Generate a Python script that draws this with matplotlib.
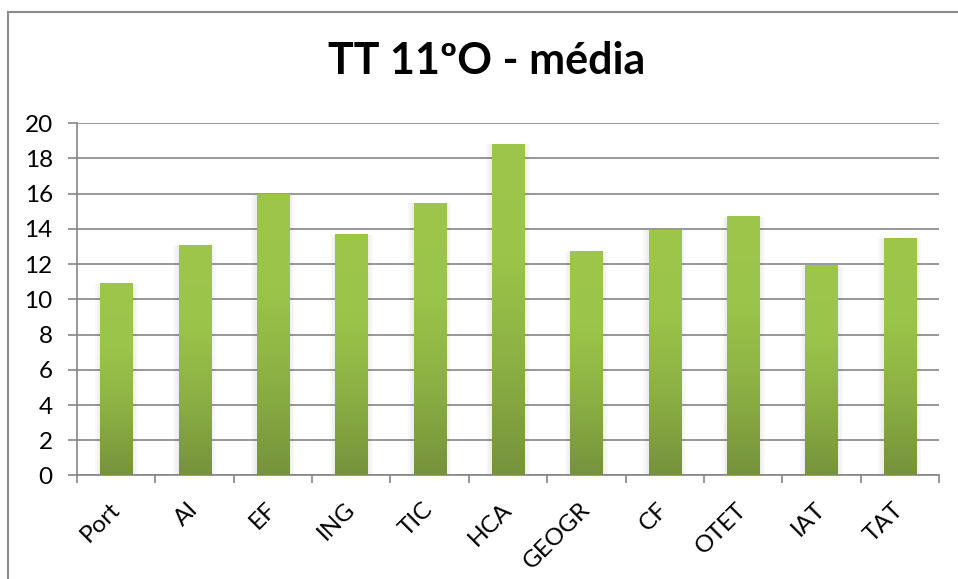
import numpy as np
import matplotlib
matplotlib.use("Agg")
import matplotlib.pyplot as plt
from matplotlib.colors import LinearSegmentedColormap
from matplotlib.lines import Line2D
from matplotlib.patches import Rectangle

# ---------------------------------------------------------------------------
# Data
# ---------------------------------------------------------------------------
subjects = ["Port", "AI", "EF", "ING", "TIC", "HCA", "GEOGR", "CF", "OTET", "IAT", "TAT"]
averages = [10.85, 13.0, 15.9, 13.63, 15.44, 18.78, 12.66, 13.9, 14.65, 11.87, 13.43]
y_ticks = [0, 2, 4, 6, 8, 10, 12, 14, 16, 18, 20]
title = "TT 11ºO - média"

plt.rcParams["font.family"] = ["Lato", "DejaVu Sans"]

GRID = "#868686"
bar_cmap = LinearSegmentedColormap.from_list(
    "excel_green", ["#76923C", "#8CB043", "#9BC54A", "#9DC64B"])

fig = plt.figure(figsize=(9.58, 5.79), dpi=100)
ax = fig.add_axes([0.0804, 0.1788, 0.8998, 0.6085])

x = np.arange(len(subjects))
width = 0.41

# invisible bars give us the geometry, gradient images fill them
bars = ax.bar(x, averages, width=width, color="none", edgecolor="none", zorder=3)

gradient = np.linspace(0, 1, 256).reshape(-1, 1)
for b in bars:
    x0, w, h = b.get_x(), b.get_width(), b.get_height()
    # faint soft shadow around each bar
    for k in [0.07, 0.045, 0.02]:
        ax.add_patch(Rectangle((x0 - k, 0), w + 2 * k, h + k * 0.4,
                               facecolor="black", alpha=0.025, edgecolor="none",
                               zorder=2.5))
    ax.imshow(gradient, cmap=bar_cmap, aspect="auto", origin="lower",
              extent=(x0, x0 + w, 0, h), zorder=3, interpolation="bicubic")

ax.set_xlim(-0.5, len(subjects) - 0.5)
ax.set_ylim(0, 20)

ax.set_yticks(y_ticks)
ax.set_yticklabels([str(v) for v in y_ticks], fontsize=17.5)
ax.yaxis.grid(True, color=GRID, linewidth=1.2, zorder=1)
ax.set_axisbelow(True)

# category ticks sit on the boundaries, labels at the centres
ax.set_xticks(np.arange(len(subjects) + 1) - 0.5)
ax.set_xticklabels([])
ax.set_xticks(x, minor=True)
ax.set_xticklabels(subjects, minor=True, fontsize=17.5, rotation=45,
                   ha="right", va="center", rotation_mode="anchor")
ax.tick_params(axis="x", which="minor", length=0, pad=22)
ax.tick_params(axis="x", which="major", length=6, width=1.2, color=GRID)
ax.tick_params(axis="y", length=6.5, width=1.2, color=GRID, pad=11)

for side in ["top", "right"]:
    ax.spines[side].set_visible(False)
for side in ["left", "bottom"]:
    ax.spines[side].set_color(GRID)
    ax.spines[side].set_linewidth(1.2)

fig.text(0.508, 0.894, title, ha="center", va="center",
         fontsize=31, fontweight="bold")

# chart-area frame (top and left edges visible in the crop)
fig.add_artist(Line2D([8 / 958, 1.0], [1 - 12 / 579, 1 - 12 / 579],
                      color="#8C8C8C", linewidth=1.5, transform=fig.transFigure))
fig.add_artist(Line2D([8 / 958, 8 / 958], [0.0, 1 - 12 / 579],
                      color="#8C8C8C", linewidth=1.5, transform=fig.transFigure))

fig.savefig("out.png", dpi=100)
